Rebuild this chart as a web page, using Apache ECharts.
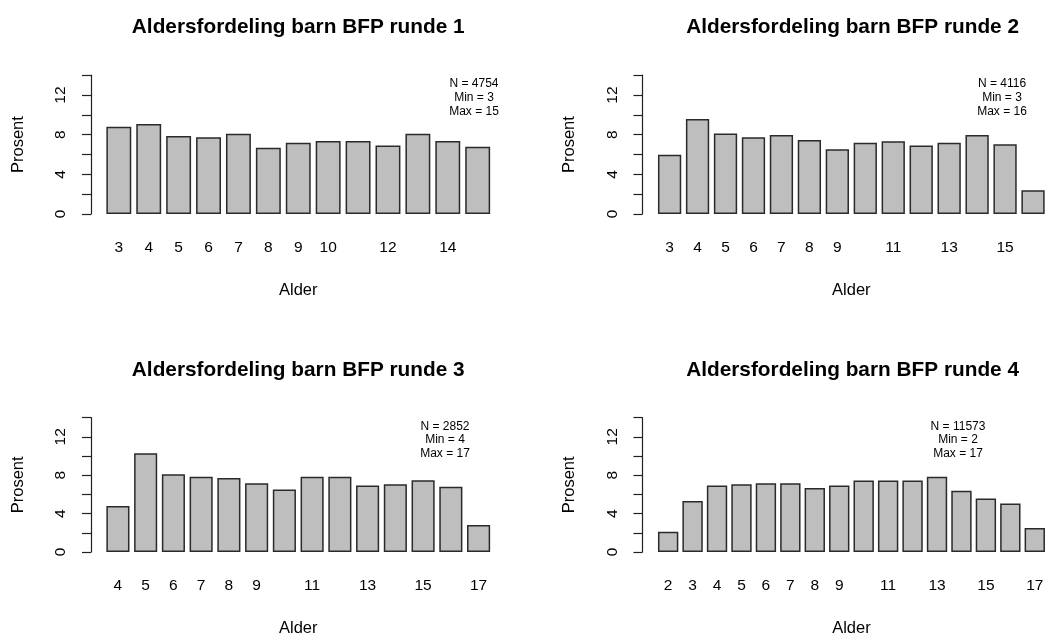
<!DOCTYPE html>
<html>
<head>
<meta charset="utf-8">
<script src="https://cdn.jsdelivr.net/npm/echarts@6/dist/echarts.min.js"></script>
<style>
  html, body { margin: 0; padding: 0; background: #fff; }
  #main { width: 1047px; height: 638px; }
</style>
</head>
<body>
<div id="main"></div>
<script>
// alder (kategorier) per runde
const ages1 = ["3","4","5","6","7","8","9","10","11","12","13","14","15"];
const ages2 = ["3","4","5","6","7","8","9","10","11","12","13","14","15","16"];
const ages3 = ["4","5","6","7","8","9","10","11","12","13","14","15","16","17"];
const ages4 = ["2","3","4","5","6","7","8","9","10","11","12","13","14","15","16","17"];

// prosent per alder
const pct1 = [8.81, 9.08, 7.87, 7.73, 8.10, 6.69, 7.19, 7.36, 7.36, 6.92, 8.10, 7.36, 6.79];
const pct2 = [5.98, 9.58, 8.13, 7.73, 7.97, 7.46, 6.52, 7.19, 7.33, 6.92, 7.19, 7.97, 7.03, 2.39];
const pct3 = [4.80, 10.28, 8.11, 7.84, 7.71, 7.17, 6.52, 7.84, 7.84, 6.93, 7.07, 7.47, 6.80, 2.81];
const pct4 = [2.10, 5.31, 6.93, 7.07, 7.17, 7.17, 6.66, 6.93, 7.44, 7.44, 7.44, 7.84, 6.39, 5.58, 5.04, 2.50];

// aksetekster som vises (resten skjules som i R)
const shown1 = ["3","4","5","6","7","8","9","10","12","14"];
const shown2 = ["3","4","5","6","7","8","9","11","13","15"];
const shown3 = ["4","5","6","7","8","9","11","13","15","17"];
const shown4 = ["2","3","4","5","6","7","8","9","11","13","15","17"];

const yLabels = [0, 4, 8, 12];
const nValues = [4754, 4116, 2852, 11573];
const titles = [
  "Aldersfordeling barn BFP runde 1",
  "Aldersfordeling barn BFP runde 2",
  "Aldersfordeling barn BFP runde 3",
  "Aldersfordeling barn BFP runde 4"
];

const panels = [
  { ages: ages1, pct: pct1, shown: shown1, plotLeft: 91, plotRight: 505.5, top: 75.2, height: 138.8, statX: 474 },
  { ages: ages2, pct: pct2, shown: shown2, plotLeft: 642.4, plotRight: 1062.8, top: 75.2, height: 138.8, statX: 1002 },
  { ages: ages3, pct: pct3, shown: shown3, plotLeft: 91, plotRight: 505.5, top: 417.6, height: 138.1, statX: 445 },
  { ages: ages4, pct: pct4, shown: shown4, plotLeft: 642.4, plotRight: 1062.8, top: 417.6, height: 138.1, statX: 958 }
];

// R barplot: bredde 1, space 0.2, xlim utvidet 4 %
function barLayout(n, plotLeft, plotRight) {
  const r = 1.2 * n - 0.2;
  const lo = 0.2 - 0.04 * r;
  const hi = 1.2 * n + 0.04 * r;
  const u = (plotRight - plotLeft) / (hi - lo);
  const off = (0.1 - lo) * u;
  return { left: plotLeft + off, width: 1.2 * n * u, offset: off };
}

let dom = document.getElementById("main");
let myChart = echarts.init(dom);

let grid = [], xAxis = [], yAxis = [], series = [], title = [];

panels.forEach((p, i) => {
  let lay = barLayout(p.ages.length, p.plotLeft, p.plotRight);
  let center = (p.plotLeft + p.plotRight) / 2;
  grid.push({ left: lay.left, top: p.top, width: lay.width, height: p.height });

  xAxis.push({
    type: "category",
    gridIndex: i,
    data: p.ages,
    axisLine: { show: false },
    axisTick: { show: false },
    axisLabel: {
      color: "#000",
      fontSize: 15.5,
      margin: 26,
      interval: (idx, val) => p.shown.includes(val)
    },
    name: "Alder",
    nameLocation: "middle",
    nameGap: 68,
    nameTextStyle: { color: "#000", fontSize: 16.5 }
  });

  yAxis.push({
    type: "value",
    gridIndex: i,
    min: 0,
    max: 14,
    interval: 2,
    offset: lay.offset,
    axisLine: { show: true, lineStyle: { color: "#222", width: 1.2 } },
    axisTick: { show: true, length: 9, lineStyle: { color: "#222", width: 1.2 } },
    splitLine: { show: false },
    axisLabel: {
      color: "#000",
      fontSize: 15.5,
      rotate: 90,
      margin: 22,
      formatter: v => (yLabels.includes(v) ? String(v) : "")
    },
    name: "Prosent",
    nameLocation: "middle",
    nameGap: 64,
    nameTextStyle: { color: "#000", fontSize: 16.5 }
  });

  series.push({
    type: "bar",
    xAxisIndex: i,
    yAxisIndex: i,
    data: p.pct,
    barWidth: "83.3%",
    itemStyle: { color: "#BEBEBE", borderColor: "#2a2a2a", borderWidth: 1.5 }
  });

  title.push({
    text: titles[i],
    left: center,
    top: p.top - 58,
    textAlign: "center",
    padding: 0,
    textStyle: { fontSize: 20.8, fontWeight: "bold", color: "#000" }
  });

  title.push({
    text: "N = " + nValues[i] + "\nMin = " + p.ages[0] + "\nMax = " + p.ages[p.ages.length - 1],
    left: p.statX,
    top: p.top + 2,
    textAlign: "center",
    padding: 0,
    textStyle: { fontSize: 12, fontWeight: "normal", color: "#000", lineHeight: 13.7, align: "center" }
  });
});

let options = {
  animation: false,
  textStyle: { fontFamily: "Liberation Sans, Arial, sans-serif" },
  title: title,
  grid: grid,
  xAxis: xAxis,
  yAxis: yAxis,
  series: series
};
myChart.setOption(options);
window.addEventListener("resize", () => {
  myChart.resize();
});
</script>
</body>
</html>
